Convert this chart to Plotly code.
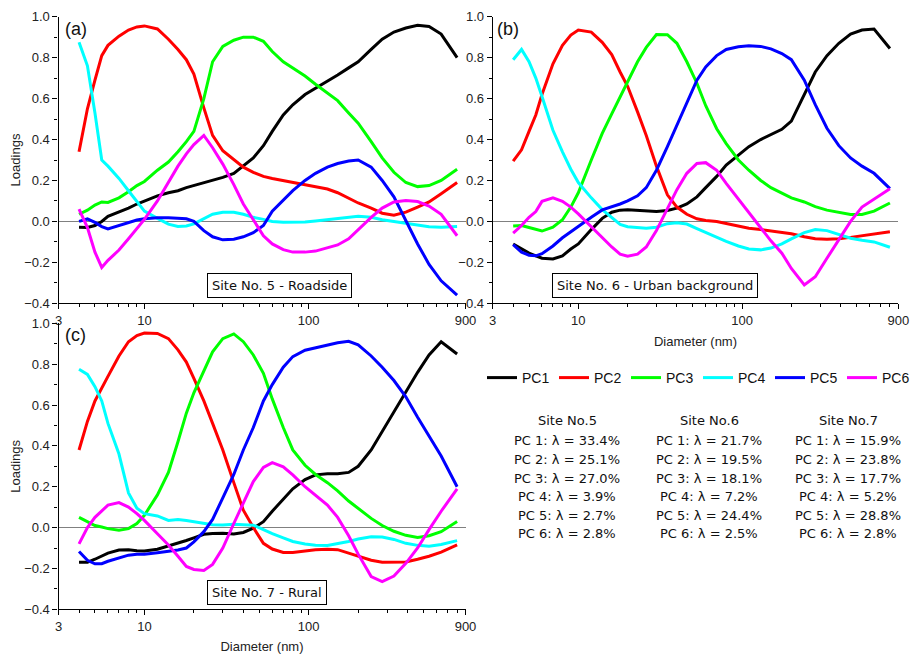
import plotly.graph_objects as go

# ---------------- data ----------------
diameter = [4, 4.5, 5, 5.5, 6, 7, 8, 9, 10, 12, 14, 16, 18, 20, 23, 26, 30, 35, 40, 46,
            53, 60, 70, 80, 95, 110, 130, 150, 175, 200, 240, 280, 330, 390, 460, 540, 640, 800]

pc_names = ["PC1", "PC2", "PC3", "PC4", "PC5", "PC6"]
pc_colors = ["#000000", "#ff0000", "#00ff00", "#00ffff", "#0000ff", "#ff00ff"]

# Site No. 5 - Roadside (a)
a_pc1 = [-0.028, -0.03, -0.02, 0.0, 0.025, 0.045, 0.065, 0.085, 0.10, 0.125, 0.14, 0.15, 0.165, 0.175, 0.19, 0.20, 0.215, 0.235, 0.27, 0.31,
         0.37, 0.44, 0.52, 0.57, 0.62, 0.65, 0.685, 0.715, 0.75, 0.78, 0.84, 0.89, 0.925, 0.945, 0.958, 0.952, 0.915, 0.80]
a_pc2 = [0.34, 0.55, 0.69, 0.81, 0.86, 0.905, 0.935, 0.95, 0.955, 0.94, 0.89, 0.84, 0.79, 0.72, 0.555, 0.42, 0.345, 0.30, 0.265, 0.24,
         0.22, 0.21, 0.20, 0.19, 0.18, 0.17, 0.158, 0.14, 0.115, 0.09, 0.065, 0.04, 0.03, 0.045, 0.07, 0.095, 0.135, 0.19]
a_pc3 = [0.035, 0.055, 0.08, 0.095, 0.093, 0.115, 0.145, 0.175, 0.195, 0.25, 0.29, 0.34, 0.39, 0.44, 0.60, 0.78, 0.855, 0.885, 0.90, 0.90,
         0.88, 0.83, 0.78, 0.75, 0.71, 0.67, 0.625, 0.59, 0.53, 0.48, 0.39, 0.31, 0.24, 0.19, 0.17, 0.175, 0.20, 0.255]
a_pc4 = [0.875, 0.76, 0.53, 0.30, 0.27, 0.21, 0.15, 0.095, 0.05, 0.015, -0.013, -0.025, -0.022, -0.012, 0.015, 0.035, 0.045, 0.045, 0.035, 0.02,
         0.01, 0.0, -0.004, -0.005, -0.003, 0.002, 0.008, 0.016, 0.022, 0.025, 0.02, 0.008, 0.0, -0.01, -0.02, -0.026, -0.028, -0.025]
a_pc5 = [0.0, 0.012, -0.005, -0.025, -0.037, -0.02, -0.003, 0.007, 0.013, 0.018, 0.018, 0.016, 0.013, 0.0, -0.045, -0.075, -0.09, -0.087, -0.075, -0.055,
         -0.02, 0.05, 0.105, 0.15, 0.20, 0.235, 0.265, 0.283, 0.295, 0.30, 0.265, 0.20, 0.12, 0.005, -0.11, -0.21, -0.29, -0.36]
a_pc6 = [0.06, -0.03, -0.15, -0.225, -0.19, -0.14, -0.085, -0.035, 0.01, 0.10, 0.19, 0.27, 0.33, 0.375, 0.42, 0.36, 0.28, 0.18, 0.085, 0.005,
         -0.07, -0.11, -0.138, -0.15, -0.15, -0.145, -0.13, -0.115, -0.085, -0.04, 0.02, 0.065, 0.095, 0.102, 0.097, 0.075, 0.035, -0.07]

# Site No. 6 - Urban background (b)
b_pc1 = [-0.11, -0.135, -0.155, -0.168, -0.18, -0.183, -0.168, -0.135, -0.11, -0.04, 0.015, 0.045, 0.055, 0.057, 0.053, 0.05, 0.049, 0.053, 0.065, 0.085,
         0.12, 0.165, 0.22, 0.275, 0.325, 0.365, 0.40, 0.425, 0.45, 0.49, 0.62, 0.73, 0.81, 0.87, 0.915, 0.935, 0.94, 0.845]
b_pc2 = [0.294, 0.35, 0.44, 0.52, 0.62, 0.77, 0.86, 0.91, 0.935, 0.925, 0.875, 0.815, 0.73, 0.66, 0.535, 0.42, 0.27, 0.13, 0.07, 0.035,
         0.013, 0.005, 0.0, -0.01, -0.022, -0.033, -0.04, -0.046, -0.052, -0.06, -0.075, -0.085, -0.087, -0.085, -0.078, -0.07, -0.06, -0.05]
b_pc3 = [-0.023, -0.02, -0.03, -0.04, -0.047, -0.028, 0.008, 0.07, 0.14, 0.30, 0.43, 0.525, 0.61, 0.68, 0.78, 0.85, 0.913, 0.912, 0.87, 0.78,
         0.675, 0.565, 0.453, 0.38, 0.30, 0.25, 0.20, 0.165, 0.14, 0.115, 0.095, 0.072, 0.055, 0.043, 0.034, 0.034, 0.05, 0.09]
b_pc4 = [0.79, 0.84, 0.78, 0.70, 0.61, 0.445, 0.34, 0.255, 0.19, 0.115, 0.058, 0.02, -0.015, -0.026, -0.03, -0.033, -0.028, -0.011, -0.007, -0.013,
         -0.035, -0.055, -0.077, -0.098, -0.12, -0.135, -0.139, -0.13, -0.11, -0.085, -0.055, -0.04, -0.045, -0.062, -0.082, -0.092, -0.10, -0.126]
b_pc5 = [-0.113, -0.15, -0.165, -0.168, -0.158, -0.12, -0.08, -0.05, -0.022, 0.02, 0.056, 0.07, 0.085, 0.10, 0.125, 0.165, 0.25, 0.365, 0.47, 0.585,
         0.69, 0.755, 0.81, 0.84, 0.853, 0.858, 0.855, 0.843, 0.82, 0.79, 0.69, 0.57, 0.455, 0.37, 0.31, 0.27, 0.235, 0.16]
b_pc6 = [-0.057, -0.02, 0.02, 0.048, 0.098, 0.115, 0.098, 0.07, 0.037, -0.027, -0.08, -0.125, -0.16, -0.17, -0.16, -0.125, -0.045, 0.065, 0.155, 0.235,
         0.283, 0.287, 0.25, 0.186, 0.108, 0.044, -0.03, -0.095, -0.155, -0.23, -0.31, -0.27, -0.18, -0.09, 0.0, 0.07, 0.11, 0.16]

# Site No. 7 - Rural (c)
c_pc1 = [-0.17, -0.17, -0.155, -0.14, -0.125, -0.11, -0.109, -0.113, -0.115, -0.106, -0.09, -0.077, -0.063, -0.05, -0.033, -0.029, -0.028, -0.031, -0.024, -0.003,
         0.029, 0.08, 0.14, 0.19, 0.235, 0.258, 0.263, 0.263, 0.27, 0.30, 0.38, 0.47, 0.57, 0.67, 0.76, 0.845, 0.91, 0.85]
c_pc2 = [0.38, 0.52, 0.62, 0.68, 0.74, 0.84, 0.91, 0.94, 0.952, 0.95, 0.925, 0.87, 0.81, 0.73, 0.62, 0.51, 0.38, 0.22, 0.085, 0.0,
         -0.077, -0.105, -0.122, -0.122, -0.114, -0.108, -0.106, -0.108, -0.125, -0.14, -0.16, -0.17, -0.17, -0.168, -0.155, -0.14, -0.12, -0.085]
c_pc3 = [0.05, 0.03, 0.01, 0.003, -0.005, -0.013, -0.005, 0.02, 0.06, 0.16, 0.27, 0.42, 0.56, 0.66, 0.77, 0.86, 0.925, 0.948, 0.91, 0.845,
         0.755, 0.63, 0.49, 0.38, 0.305, 0.26, 0.22, 0.18, 0.13, 0.095, 0.045, 0.01, -0.018, -0.038, -0.048, -0.04, -0.02, 0.03]
c_pc4 = [0.775, 0.75, 0.69, 0.62, 0.51, 0.36, 0.17, 0.095, 0.068, 0.057, 0.035, 0.04, 0.035, 0.03, 0.02, 0.014, 0.013, 0.016, 0.014, 0.012,
         -0.01, -0.03, -0.05, -0.068, -0.08, -0.086, -0.088, -0.08, -0.068, -0.056, -0.045, -0.046, -0.058, -0.077, -0.087, -0.091, -0.083, -0.064]
c_pc5 = [-0.117, -0.16, -0.177, -0.177, -0.165, -0.148, -0.135, -0.13, -0.13, -0.123, -0.115, -0.11, -0.10, -0.07, -0.02, 0.04, 0.145, 0.26, 0.38, 0.49,
         0.62, 0.70, 0.785, 0.837, 0.868, 0.88, 0.895, 0.905, 0.912, 0.895, 0.84, 0.785, 0.72, 0.64, 0.54, 0.45, 0.35, 0.20]
c_pc6 = [-0.08, 0.0, 0.05, 0.08, 0.11, 0.122, 0.10, 0.068, 0.035, -0.03, -0.085, -0.14, -0.19, -0.205, -0.21, -0.18, -0.10, 0.02, 0.12, 0.225,
         0.295, 0.318, 0.297, 0.258, 0.20, 0.16, 0.11, 0.05, -0.04, -0.13, -0.24, -0.264, -0.237, -0.175, -0.10, -0.01, 0.08, 0.19]

panel_labels = ["(a)", "(b)", "(c)"]
site_titles = ["Site No. 5 - Roadside", "Site No. 6 - Urban background", "Site No. 7 - Rural"]

x_tickvals = [3, 10, 100, 900]
x_ticktext = ["3", "10", "100", "900"]
x_minor = [4, 5, 6, 7, 8, 9, 20, 30, 40, 50, 60, 70, 80, 90, 200, 300, 400, 500, 600, 700, 800]
y_tickvals = [-0.4, -0.2, 0.0, 0.2, 0.4, 0.6, 0.8, 1.0]

table_headers = ["Site No.5", "Site No.6", "Site No.7"]
lambda_site5 = ["33.4", "25.1", "27.0", "3.9", "2.7", "2.8"]
lambda_site6 = ["21.7", "19.5", "18.1", "7.2", "24.4", "2.5"]
lambda_site7 = ["15.9", "23.8", "17.7", "5.2", "28.8", "2.8"]

# ---------------- layout helpers ----------------
W, H = 914, 654

def px_x(p):
    return p / W

def px_y(p):
    return 1 - p / H

panels = [
    dict(xd=(58.5, 465.5), yd=(16.7, 303.3),
         data=[a_pc1, a_pc2, a_pc3, a_pc4, a_pc5, a_pc6], ytitle=True, xtitle=False,
         lab=(63, 29), box=(279, 285.5)),
    dict(xd=(492.7, 898.3), yd=(16.7, 303.3),
         data=[b_pc1, b_pc2, b_pc3, b_pc4, b_pc5, b_pc6], ytitle=False, xtitle=True,
         lab=(495, 29), box=(655, 285.5)),
    dict(xd=(58.5, 465.5), yd=(323.3, 609.3),
         data=[c_pc1, c_pc2, c_pc3, c_pc4, c_pc5, c_pc6], ytitle=True, xtitle=True,
         lab=(63, 335), box=(266.5, 592)),
]

fig = go.Figure()
arial = "Liberation Sans, Arial, sans-serif"
axis_font = dict(family=arial, size=13, color="#222")
text_font = "DejaVu Sans, Verdana, sans-serif"

annotations = []
for i, p in enumerate(panels):
    sfx = "" if i == 0 else str(i + 1)
    for k in range(6):
        fig.add_trace(go.Scatter(
            x=diameter, y=p["data"][k], mode="lines", name=pc_names[k],
            line=dict(color=pc_colors[k], width=3),
            xaxis="x" + sfx, yaxis="y" + sfx, showlegend=(i == 0),
            hoverinfo="skip"))
    fig.layout["xaxis" + sfx] = dict(
        type="log", range=[0.47712, 2.95424],
        domain=[px_x(p["xd"][0]), px_x(p["xd"][1])],
        anchor="y" + sfx, automargin=False,
        tickmode="array", tickvals=x_tickvals, ticktext=x_ticktext,
        ticks="outside", ticklen=5, tickwidth=1, tickcolor="#000",
        minor=dict(tickmode="array", tickvals=x_minor, ticks="outside", ticklen=3,
                   tickwidth=1, tickcolor="#000", showgrid=False),
        showline=True, linecolor="#000", linewidth=1.2,
        showgrid=False, zeroline=False, tickfont=axis_font,
        title=dict(text="Diameter (nm)" if p["xtitle"] else "",
                   font=dict(family=arial, size=13, color="#222"), standoff=9),
    )
    fig.layout["yaxis" + sfx] = dict(
        range=[-0.4, 1.0],
        domain=[px_y(p["yd"][1]), px_y(p["yd"][0])],
        anchor="x" + sfx, automargin=False,
        tickmode="array", tickvals=y_tickvals, tickformat=".1f",
        ticks="outside", ticklen=5, tickwidth=1, tickcolor="#000",
        minor=dict(tickmode="linear", tick0=-0.4, dtick=0.1, ticks="outside", ticklen=3,
                   tickwidth=1, tickcolor="#000", showgrid=False),
        showline=True, linecolor="#000", linewidth=1.2,
        showgrid=False, zeroline=True, zerolinecolor="#808080", zerolinewidth=1,
        tickfont=axis_font,
        title=dict(text="Loadings" if p["ytitle"] else "",
                   font=dict(family=arial, size=13, color="#222"), standoff=0),
    )
    annotations.append(dict(
        text=panel_labels[i], xref="paper", yref="paper",
        x=px_x(p["lab"][0]), y=px_y(p["lab"][1]), xanchor="left", yanchor="middle",
        showarrow=False, font=dict(family=arial, size=18, color="#111")))
    annotations.append(dict(
        text=site_titles[i], xref="paper", yref="paper",
        x=px_x(p["box"][0]), y=px_y(p["box"][1]), xanchor="center", yanchor="middle",
        showarrow=False, bordercolor="#000", borderwidth=1, borderpad=4, bgcolor="white",
        font=dict(family=text_font, size=13, color="#111")))

# table of explained variance
col_x = [567, 709, 848]
row_y = [420.7, 440, 459, 478, 496.5, 515, 533.5]
for j, vals in enumerate([lambda_site5, lambda_site6, lambda_site7]):
    lines = [table_headers[j]] + [f"PC {k + 1}: λ = {v}%" for k, v in enumerate(vals)]
    for r, t in enumerate(lines):
        annotations.append(dict(
            text=t, xref="paper", yref="paper", x=px_x(col_x[j]), y=px_y(row_y[r]),
            xanchor="center", yanchor="middle", showarrow=False,
            font=dict(family=text_font, size=13, color="#111")))

fig.update_layout(
    width=W, height=H, margin=dict(l=0, r=0, t=0, b=0, autoexpand=False),
    paper_bgcolor="white", plot_bgcolor="white",
    annotations=annotations,
    showlegend=True,
    legend=dict(orientation="h", x=px_x(482), y=px_y(378), xanchor="left", yanchor="middle",
                font=dict(family=arial, size=14, color="#111"),
                bgcolor="rgba(0,0,0,0)", itemwidth=30, tracegroupgap=0,
                entrywidth=27, entrywidthmode="pixels"),
)

fig.write_html(
    "out.html",
    config={"displayModeBar": False},
    post_script="document.body.style.margin='0';document.body.style.padding='0';"
                "document.body.style.overflow='hidden';",
)
